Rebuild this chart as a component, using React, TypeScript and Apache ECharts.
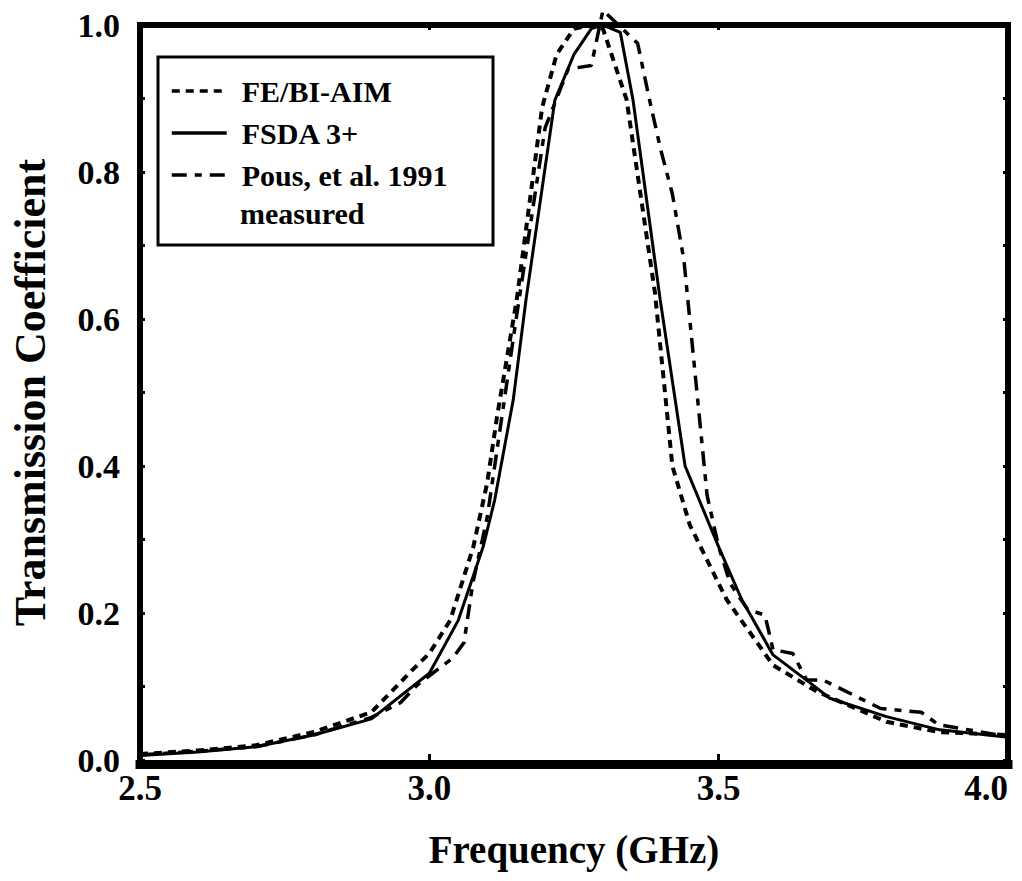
import React, { useEffect, useRef } from "react";
import * as echarts from "echarts";

const FONT = "'Liberation Serif', 'Times New Roman', serif";

const seriesNames = ["FE/BI-AIM", "FSDA 3+", "Pous, et al. 1991"];
const legendSecondLine = "measured";

const xTicks = [2.5, 3.0, 3.5, 4.0];
const yTicks = [0.0, 0.2, 0.4, 0.6, 0.8, 1.0];

// FE/BI-AIM (dotted)
const feFreq = [2.5, 2.6, 2.7, 2.8, 2.9, 2.97, 3.0, 3.036, 3.076, 3.1, 3.117, 3.151, 3.195, 3.22, 3.25, 3.28, 3.3, 3.341, 3.39, 3.42, 3.45, 3.5, 3.514, 3.594, 3.67, 3.79, 3.88, 4.0];
const feVal = [0.008, 0.013, 0.02, 0.038, 0.065, 0.122, 0.145, 0.19, 0.29, 0.377, 0.467, 0.626, 0.888, 0.96, 0.995, 1.0, 0.995, 0.898, 0.635, 0.4, 0.32, 0.24, 0.218, 0.129, 0.093, 0.052, 0.038, 0.034];

// FSDA 3+ (solid)
const fsFreq = [2.5, 2.6, 2.7, 2.8, 2.9, 3.0, 3.05, 3.093, 3.113, 3.145, 3.167, 3.217, 3.25, 3.28, 3.3, 3.33, 3.352, 3.399, 3.442, 3.5, 3.54, 3.594, 3.658, 3.692, 3.79, 3.882, 4.0];
const fsVal = [0.006, 0.011, 0.018, 0.034, 0.056, 0.118, 0.19, 0.29, 0.354, 0.49, 0.626, 0.898, 0.96, 0.995, 1.0, 0.99, 0.898, 0.626, 0.4, 0.29, 0.218, 0.143, 0.105, 0.084, 0.059, 0.041, 0.031];

// Pous, et al. 1991 measured (long dash)
const msFreq = [2.5, 2.6, 2.7, 2.8, 2.9, 2.95, 2.979, 3.041, 3.06, 3.075, 3.1, 3.15, 3.2, 3.24, 3.28, 3.3, 3.36, 3.38, 3.4, 3.42, 3.44, 3.46, 3.48, 3.5, 3.52, 3.55, 3.58, 3.594, 3.628, 3.652, 3.68, 3.78, 3.85, 3.88, 4.0];
const msVal = [0.007, 0.012, 0.018, 0.034, 0.058, 0.078, 0.102, 0.139, 0.16, 0.24, 0.33, 0.6, 0.86, 0.94, 0.945, 1.02, 0.975, 0.9, 0.83, 0.77, 0.68, 0.52, 0.36, 0.29, 0.24, 0.205, 0.197, 0.15, 0.145, 0.109, 0.109, 0.07, 0.065, 0.048, 0.032];

const pairs = (xs: number[], ys: number[]) => xs.map((x, i) => [x, ys[i]]);

export default function App() {
  const ref = useRef<HTMLDivElement>(null);
  useEffect(() => {
    if (!ref.current) return;
    const chart = echarts.init(ref.current, null, { renderer: "svg" });
    const bold = { fontFamily: FONT, fontWeight: "bold" as const, color: "#000" };
    const frameY = (pos: "left" | "right", labels: boolean) => ({
      type: "value",
      position: pos,
      min: 0,
      max: 1,
      interval: 0.2,
      axisLine: { show: true, onZero: false, lineStyle: { color: "#000", width: 6, cap: "square" } },
      axisTick: { show: true, inside: true, length: 5, lineStyle: { color: "#000", width: 3 } },
      minorTick: { show: true, splitNumber: 2, length: 5, lineStyle: { color: "#000", width: 3 } },
      splitLine: { show: false },
      axisLabel: labels
        ? { show: true, ...bold, fontSize: 34, margin: 20, formatter: (v: number) => v.toFixed(1) }
        : { show: false },
      ...(labels
        ? {
            name: "Transmission Coefficient",
            nameLocation: "middle",
            nameGap: 88,
            nameTextStyle: { ...bold, fontSize: 44 },
          }
        : {}),
    });
    chart.setOption({
      animation: false,
      backgroundColor: "#fff",
      grid: { left: 140, right: 14, top: 25, bottom: 121, containLabel: false },
      xAxis: [
        {
          type: "value",
          position: "bottom",
          min: 2.5,
          max: 4.0,
          interval: 0.5,
          offset: 4,
          axisLine: { show: true, onZero: false, lineStyle: { color: "#000", width: 9, cap: "square" } },
          axisTick: { show: true, inside: true, length: 10, lineStyle: { color: "#000", width: 3 } },
          splitLine: { show: false },
          axisLabel: {
            ...bold,
            fontSize: 35,
            margin: 7,
            alignMaxLabel: "right",
            formatter: (v: number) => v.toFixed(1),
          },
          name: "Frequency (GHz)",
          nameLocation: "middle",
          nameGap: 66,
          nameTextStyle: { ...bold, fontSize: 39 },
        },
        {
          type: "value",
          position: "top",
          min: 2.5,
          max: 4.0,
          interval: 0.5,
          axisLine: { show: true, onZero: false, lineStyle: { color: "#000", width: 6, cap: "square" } },
          axisTick: { show: true, inside: true, length: 5, lineStyle: { color: "#000", width: 3 } },
          splitLine: { show: false },
          axisLabel: { show: false },
        },
      ],
      yAxis: [frameY("left", true), frameY("right", false)],
      legend: {
        orient: "vertical",
        left: 158,
        top: 57,
        padding: [19, 10, 55, 12],
        itemWidth: 55,
        itemHeight: 30,
        itemGap: 12,
        data: seriesNames,
        itemStyle: { opacity: 0 },
        lineStyle: { width: 3.5 },
        textStyle: { ...bold, fontSize: 30, padding: [0, 0, 0, 10] },
      },
      graphic: [
        {
          type: "rect",
          shape: { x: 158, y: 57, width: 335, height: 188 },
          style: { fill: "none", stroke: "#000", lineWidth: 3 },
          z: 100,
        },
        {
          type: "text",
          x: 240,
          y: 213,
          style: {
            text: legendSecondLine,
            font: `bold 30px ${FONT}`,
            fill: "#000",
            verticalAlign: "middle",
          },
          z: 100,
        },
      ],
      series: [
        {
          name: seriesNames[0],
          type: "line",
          data: pairs(feFreq, feVal),
          symbol: "none",
          itemStyle: { color: "#000" },
          lineStyle: { color: "#000", width: 4, type: [8, 6] },
          clip: false,
        },
        {
          name: seriesNames[1],
          type: "line",
          data: pairs(fsFreq, fsVal),
          symbol: "none",
          itemStyle: { color: "#000" },
          lineStyle: { color: "#000", width: 3, type: "solid" },
          clip: false,
        },
        {
          name: seriesNames[2],
          type: "line",
          data: pairs(msFreq, msVal),
          symbol: "none",
          itemStyle: { color: "#000" },
          lineStyle: { color: "#000", width: 3.5, type: [15, 8, 7, 8] },
          clip: false,
        },
      ],
    });
    return () => chart.dispose();
  }, []);
  return (
    <div
      ref={ref}
      style={{ position: "fixed", left: 0, top: 0, width: 1022, height: 881, background: "#fff" }}
    />
  );
}
